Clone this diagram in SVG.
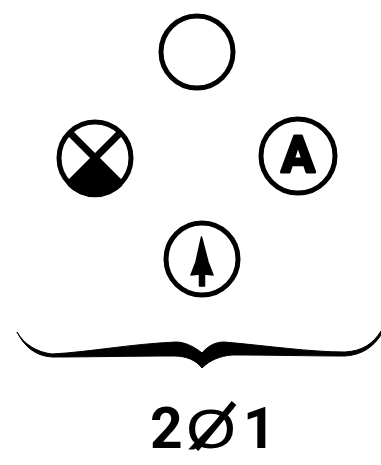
<svg xmlns="http://www.w3.org/2000/svg" width="381" height="465" viewBox="0 0 381 465">
<style>
.c{fill:#fff;stroke:#000;stroke-width:5}
.t{font-family:Roboto,"Liberation Sans",Arial,sans-serif;font-weight:700;fill:#000}
</style>
<rect width="381" height="465" fill="#fff"/>
<g id="node-top"><circle class="c" cx="197" cy="52" r="36"/></g>
<g id="node-cross">
<circle class="c" cx="95" cy="158" r="36"/>
<path d="M95 158L67.500 185.500A38 38 0 0 0 122.500 185.500Z" fill="#000"/>
<path d="M70 133L120 183M120 133L70 183" stroke="#000" stroke-width="7" fill="none"/>
</g>
<g id="node-a">
<circle class="c" cx="298" cy="156" r="37"/>
<text class="t" x="298" y="172" font-size="50" text-anchor="middle" stroke="#000" stroke-width="3" stroke-linejoin="round">A</text>
</g>
<g id="node-arrow">
<circle class="c" cx="202" cy="259" r="36"/>
<path d="M201.500 237L208 262L213 275L204.500 274L204.500 286L199.500 286L199.500 274L191 275L196 262Z" fill="#000" stroke="#000" stroke-width="1.500" stroke-linejoin="round"/>
</g>
<g id="connectors">
<path d="M17 332C24 344 36 352 52 354C90 352 130 344 176 342C186 342 196 348 202 353C207 347 214 342 224 342C270 346 310 352 345 352C362 351 373 344 381 331L381 335C373 347 362 355 345 356C310 356 270 355 232 355C220 356 210 360 202 368C196 360 186 356 174 356C130 356 90 357 52 357C35 356 24 346 17 332Z" fill="#000" stroke="#000" stroke-width="1" stroke-linejoin="round"/>
</g>
<g id="label"><text class="t" x="150" y="448" font-size="57">2</text><text transform="translate(186 448) scale(1.150 1)" x="0" y="0" font-size="56" font-family="Liberation Sans, sans-serif" fill="#000">Ø</text><line x1="196" y1="449" x2="234" y2="403" stroke="#000" stroke-width="6"/><text class="t" x="243" y="448" font-size="57">1</text></g>
</svg>
